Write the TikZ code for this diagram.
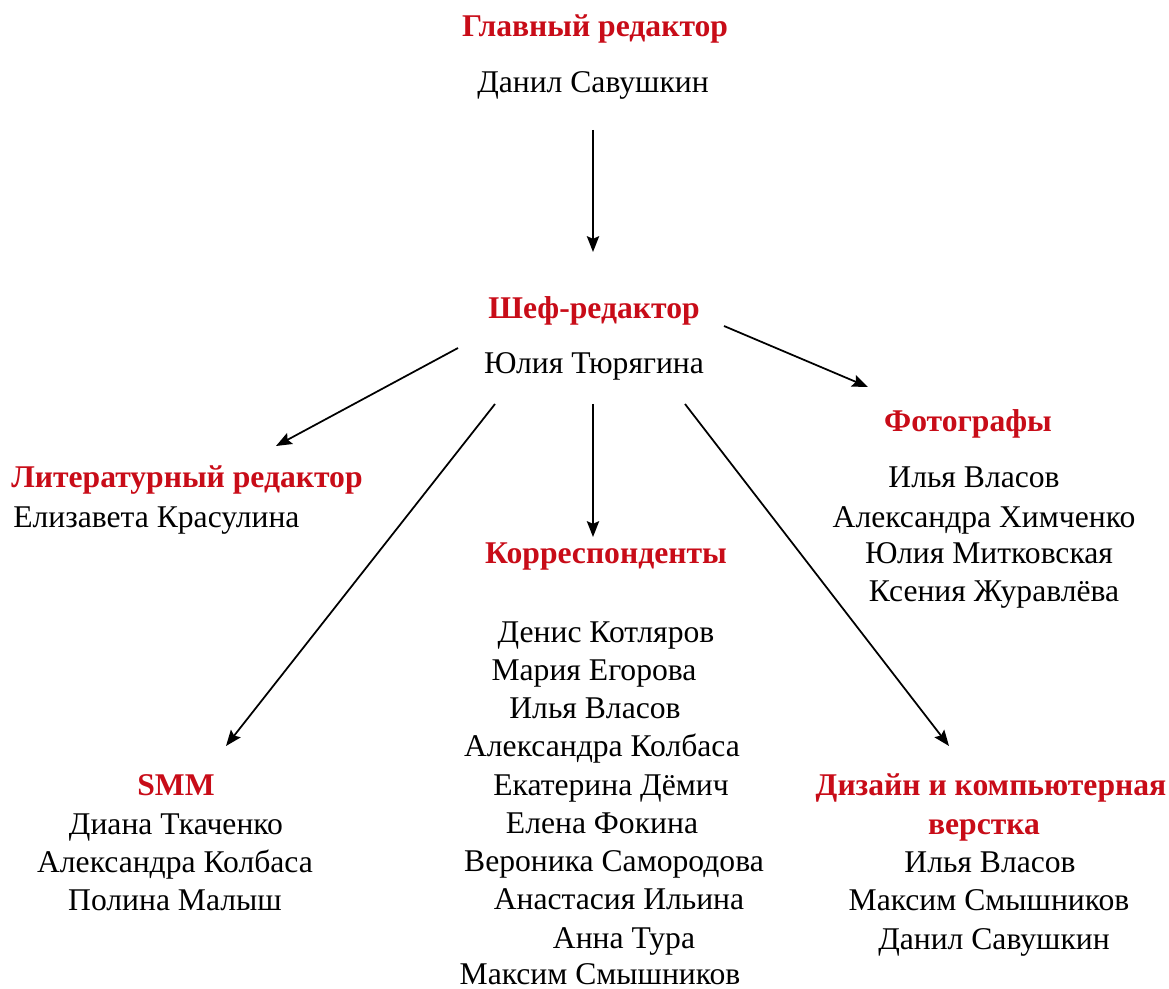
\documentclass[tikz,border=0pt]{standalone}
\usepackage{fontspec}
\setmainfont{Liberation Serif}
\usetikzlibrary{arrows.meta}
\definecolor{titlered}{RGB}{200,12,24}
\tikzset{
  ttl/.style={anchor=base, font=\fontsize{18}{21}\selectfont\bfseries, text=titlered, inner sep=0pt},
  nm/.style={anchor=base, font=\fontsize{18}{21}\selectfont, text=black, inner sep=0pt},
  arr/.style={line width=1pt, -{Stealth[length=9pt,width=7pt,inset=1.5pt]}}
}
\begin{document}
\begin{tikzpicture}[x=0.02cm,y=-0.02cm]
\useasboundingbox (0,0) rectangle (1169,989);
% top
\node[ttl] (glav) at (595,37) {Главный редактор};
\node[nm] (dan) at (593,93) {Данил Савушкин};
\node[ttl] (shef) at (594,319) {Шеф-редактор};
\node[nm] (jul) at (594,374) {Юлия Тюрягина};
% literary
\node[ttl] (lit) at (187,487) {Литературный редактор};
\node[nm, anchor=base west] (liz) at (13,527) {Елизавета Красулина};
% photographers
\node[ttl] (foto) at (968,432) {Фотографы};
\node[nm] (f1) at (974,487) {Илья Власов};
\node[nm] (f2) at (984,527) {Александра Химченко};
\node[nm] (f3) at (989,563) {Юлия Митковская};
\node[nm] (f4) at (994,601) {Ксения Журавлёва};
% correspondents
\node[ttl] (korr) at (606,563) {Корреспонденты};
\node[nm] (k1) at (606,642) {Денис Котляров};
\node[nm] (k2) at (594,680) {Мария Егорова};
\node[nm] (k3) at (595,718) {Илья Власов};
\node[nm] (k4) at (602,756) {Александра Колбаса};
\node[nm] (k5) at (611,795) {Екатерина Дёмич};
\node[nm] (k6) at (602,833) {Елена Фокина};
\node[nm] (k7) at (614,871) {Вероника Самородова};
\node[nm] (k8) at (619,909) {Анастасия Ильина};
\node[nm] (k9) at (624,948) {Анна Тура};
\node[nm] (k10) at (600,984) {Максим Смышников};
% SMM
\node[ttl] (smm) at (176,795) {SMM};
\node[nm] (s1) at (176,834) {Диана Ткаченко};
\node[nm] (s2) at (175,872) {Александра Колбаса};
\node[nm] (s3) at (175,910) {Полина Малыш};
% design
\node[ttl] (diz) at (991,795) {Дизайн и компьютерная};
\node[ttl] (diz2) at (984,834) {верстка};
\node[nm] (d1) at (990,872) {Илья Власов};
\node[nm] (d2) at (989,910) {Максим Смышников};
\node[nm] (d3) at (994,949) {Данил Савушкин};
% connector end points
\coordinate (c1s) at (593,130);
\coordinate (c1e) at (593,252);
\coordinate (c2s) at (458,348);
\coordinate (c2e) at (276,446);
\coordinate (c3s) at (724,326);
\coordinate (c3e) at (868,387);
\coordinate (c4s) at (495,404);
\coordinate (c4e) at (226,746);
\coordinate (c5s) at (593,404);
\coordinate (c5e) at (593,537);
\coordinate (c6s) at (685,404);
\coordinate (c6e) at (949,746);
\draw[arr] (c1s) -- (c1e);
\draw[arr] (c2s) -- (c2e);
\draw[arr] (c3s) -- (c3e);
\draw[arr] (c4s) -- (c4e);
\draw[arr] (c5s) -- (c5e);
\draw[arr] (c6s) -- (c6e);
\end{tikzpicture}
\end{document}
